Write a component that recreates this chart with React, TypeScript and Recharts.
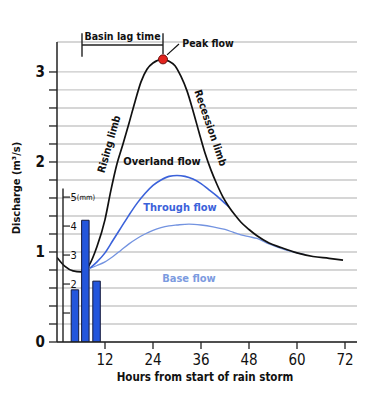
import {
  ComposedChart,
  Line,
  Bar,
  XAxis,
  YAxis,
  CartesianGrid,
  ReferenceLine,
  ReferenceDot,
} from 'recharts';

const FONT = "'DejaVu Sans Condensed', 'DejaVu Sans', sans-serif";

// storm hydrograph (total discharge, m3/s)
const stormHours = [0, 2, 4, 6, 8, 10, 12, 13.5, 15, 16.5, 18, 19.5, 21, 22.5, 24, 26.5, 28, 29.5, 31, 32.5, 34, 35.5, 37, 38.5, 40, 41.5, 43, 44.5, 46, 48, 50, 53, 56, 60, 64, 68, 71.5];
const stormFlow = [0.94, 0.84, 0.79, 0.78, 0.85, 1.06, 1.36, 1.69, 1.98, 2.2, 2.43, 2.67, 2.89, 3.03, 3.1, 3.14, 3.12, 3.07, 2.95, 2.79, 2.57, 2.33, 2.1, 1.91, 1.75, 1.61, 1.5, 1.41, 1.33, 1.25, 1.18, 1.1, 1.05, 0.99, 0.95, 0.93, 0.91];

const throughHours = [8.25, 10, 12, 14, 16, 18, 20, 22, 24, 26, 28, 30, 32, 34, 36, 38, 40, 42, 43];
const throughFlow = [0.82, 0.89, 0.99, 1.13, 1.27, 1.41, 1.54, 1.65, 1.74, 1.8, 1.84, 1.85, 1.84, 1.81, 1.76, 1.69, 1.62, 1.54, 1.5];

const baseHours = [8.25, 10, 12, 14, 16, 18, 20, 22, 24, 26, 28, 30, 33, 36, 39, 42, 44, 46, 48, 50, 53, 56, 59, 62];
const baseFlow = [0.82, 0.85, 0.89, 0.95, 1.02, 1.09, 1.15, 1.2, 1.24, 1.27, 1.29, 1.3, 1.31, 1.3, 1.28, 1.25, 1.22, 1.19, 1.17, 1.15, 1.09, 1.04, 1.0, 0.97];

// rainfall (mm)
const rainHours = [4.6, 7.2, 10];
const rainMm = [1.8, 4.2, 2.1];

const hourTicks = [12, 24, 36, 48, 60, 72];
const dischargeTicks = [0, 0.2, 0.4, 0.6, 0.8, 1, 1.2, 1.4, 1.6, 1.8, 2, 2.2, 2.4, 2.6, 2.8, 3];
const rainTicks = [1, 2, 3, 4, 5];
const rainTickLabels = ['', '2', '3', '4', '5'];
const lagStartHour = 6.25;

const toRows = (hours: number[], values: number[]) =>
  hours.map((hour, i) => ({ hour, q: values[i] }));

const stormRows = toRows(stormHours, stormFlow);
const throughRows = toRows(throughHours, throughFlow);
const baseRows = toRows(baseHours, baseFlow);
const rainRows = rainHours.map((hour, i) => ({ hour, mm: rainMm[i] }));

const peakIndex = stormFlow.indexOf(Math.max(...stormFlow));
const peakHour = stormHours[peakIndex];
const peakFlow = stormFlow[peakIndex];

type AnnOpts = {
  fill?: string;
  size?: number;
  weight?: number;
  angle?: number;
  anchor?: 'start' | 'middle' | 'end';
  dx?: number;
  dy?: number;
};

const ann = (text: string, o: AnnOpts = {}) => (props: any) => {
  const vb = props.viewBox || {};
  const x = (vb.x ?? 0) + (vb.width ?? 0) / 2 + (o.dx ?? 0);
  const y = (vb.y ?? 0) + (vb.height ?? 0) / 2 + (o.dy ?? 0);
  return (
    <text
      x={x}
      y={y}
      textAnchor={o.anchor ?? 'middle'}
      dominantBaseline="central"
      fill={o.fill ?? '#111'}
      fontSize={o.size ?? 11}
      fontWeight={o.weight ?? 700}
      fontFamily={FONT}
      transform={o.angle ? `rotate(${o.angle} ${x} ${y})` : undefined}
    >
      {text}
    </text>
  );
};

const rainLabel = (text: string, unit: boolean) => (props: any) => {
  const vb = props.viewBox || {};
  const x = (vb.x ?? 0) + (vb.width ?? 0) + 0.5;
  const y = (vb.y ?? 0) + (vb.height ?? 0) / 2;
  return (
    <text x={x} y={y} dominantBaseline="central" fill="#111" fontSize={11} fontFamily={FONT}>
      {text}
      {unit && <tspan fontSize={7.5}>(mm)</tspan>}
    </text>
  );
};

const yTickFormat = (v: number) =>
  Math.abs(v - Math.round(v)) < 1e-6 ? String(Math.round(v)) : '';

export default function App() {
  return (
    <div style={{ position: 'absolute', left: 0, top: 0, width: 381, height: 408, background: '#fff' }}>
      <ComposedChart
        width={381}
        height={408}
        data={rainRows}
        margin={{ top: 42, right: 24, left: 12, bottom: 22 }}
      >
        <CartesianGrid vertical={false} stroke="#c9c9c9" strokeWidth={1.3} />
        <XAxis
          type="number"
          dataKey="hour"
          domain={[0, 75]}
          ticks={hourTicks}
          allowDataOverflow
          height={44}
          tickSize={7}
          tickMargin={5}
          tick={{ fontSize: 15, fill: '#111', fontFamily: FONT }}
          tickLine={{ stroke: '#222', strokeWidth: 1.3 }}
          axisLine={{ stroke: '#222', strokeWidth: 1.5 }}
          label={ann('Hours from start of rain storm', { size: 11.5, dx: -2, dy: 13 })}
        />
        <XAxis xAxisId="rain" type="number" dataKey="hour" domain={[0, 75]} allowDataOverflow hide />
        <YAxis
          type="number"
          domain={[0, 3.333]}
          ticks={dischargeTicks}
          allowDataOverflow
          width={45}
          tickSize={8}
          tickMargin={4}
          tickFormatter={yTickFormat}
          tick={{ fontSize: 15, fontWeight: 700, fill: '#111', fontFamily: FONT }}
          tickLine={{ stroke: '#222', strokeWidth: 1.3 }}
          axisLine={{ stroke: '#222', strokeWidth: 1.5 }}
          label={ann('Discharge (m³/s)', { size: 11, angle: -90, dx: -18, dy: -4 })}
        />
        <YAxis yAxisId="rain" type="number" domain={[0, 10.35]} allowDataOverflow hide />

        <Line
          data={baseRows}
          dataKey="q"
          type="monotone"
          stroke="#7393e0"
          strokeWidth={1.3}
          dot={false}
          isAnimationActive={false}
        />
        <Line
          data={throughRows}
          dataKey="q"
          type="monotone"
          stroke="#3b62da"
          strokeWidth={1.6}
          dot={false}
          isAnimationActive={false}
        />
        <Line
          data={stormRows}
          dataKey="q"
          type="monotone"
          stroke="#111"
          strokeWidth={1.7}
          dot={false}
          isAnimationActive={false}
        />
        <Bar
          xAxisId="rain"
          yAxisId="rain"
          dataKey="mm"
          barSize={7.5}
          fill="#2456dc"
          stroke="#141a3c"
          strokeWidth={1}
          zIndex={450}
          isAnimationActive={false}
        />

        {/* rainfall scale */}
        <ReferenceLine
          yAxisId="rain"
          segment={[{ x: 1.5, y: 0 }, { x: 1.5, y: 5.3 }]}
          stroke="#222"
          strokeWidth={1.4}
          ifOverflow="visible"
        />
        {rainTicks.map((t, i) => (
          <ReferenceLine
            key={t}
            yAxisId="rain"
            segment={[{ x: 1.5, y: t }, { x: 3.25, y: t }]}
            stroke="#222"
            strokeWidth={1.2}
            ifOverflow="visible"
            label={rainLabel(rainTickLabels[i], t === 5)}
          />
        ))}

        {/* basin lag time bracket */}
        <ReferenceLine
          segment={[{ x: lagStartHour, y: 3.3 }, { x: peakHour, y: 3.3 }]}
          stroke="#222"
          strokeWidth={1.6}
          ifOverflow="visible"
        />
        <ReferenceLine
          segment={[{ x: lagStartHour, y: 3.43 }, { x: lagStartHour, y: 3.17 }]}
          stroke="#222"
          strokeWidth={1.4}
          ifOverflow="visible"
        />
        <ReferenceLine
          segment={[{ x: peakHour, y: 3.43 }, { x: peakHour, y: 3.2 }]}
          stroke="#222"
          strokeWidth={1.4}
          ifOverflow="visible"
        />
        <ReferenceDot
          x={(lagStartHour + peakHour) / 2}
          y={3.4}
          r={0}
          ifOverflow="visible"
          label={ann('Basin lag time', { size: 10.5 })}
        />

        {/* peak */}
        <ReferenceLine
          segment={[{ x: peakHour + 1, y: 3.19 }, { x: peakHour + 4, y: 3.31 }]}
          stroke="#111"
          strokeWidth={1.2}
          ifOverflow="visible"
        />
        <ReferenceDot
          x={peakHour}
          y={peakFlow}
          r={4.5}
          fill="#e3241e"
          stroke="#6a0d0d"
          strokeWidth={1}
          ifOverflow="visible"
        />
        <ReferenceDot
          x={37.75}
          y={3.32}
          r={0}
          ifOverflow="visible"
          label={ann('Peak flow', { size: 10.5 })}
        />

        <ReferenceDot x={12.9} y={2.2} r={0} label={ann('Rising limb', { size: 10.5, angle: -74 })} />
        <ReferenceDot x={38.5} y={2.38} r={0} label={ann('Recession limb', { size: 10.5, angle: 71 })} />
        <ReferenceDot x={26.25} y={2.01} r={0} label={ann('Overland flow', { size: 11 })} />
        <ReferenceDot x={30.75} y={1.49} r={0} label={ann('Through flow', { size: 11, fill: '#3b62da' })} />
        <ReferenceDot x={33} y={0.71} r={0} label={ann('Base flow', { size: 11, fill: '#7c9be0' })} />
      </ComposedChart>
    </div>
  );
}
